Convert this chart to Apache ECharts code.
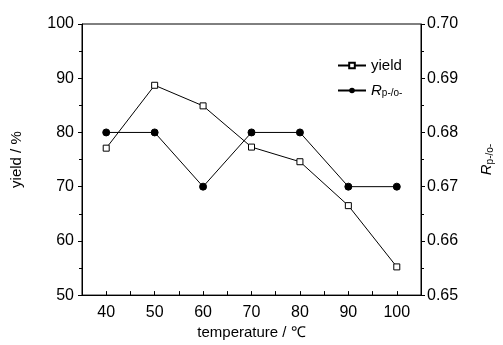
<!DOCTYPE html>
<html>
<head>
<meta charset="utf-8">
<script src="https://cdn.jsdelivr.net/npm/echarts@6/dist/echarts.min.js"></script>
<style>
  html, body { margin: 0; padding: 0; background: #fff; }
  #chart { width: 503px; height: 345px; }
</style>
</head>
<body>
<div id="chart"></div>
<script>
const temperature = [40, 50, 60, 70, 80, 90, 100];
const yieldValues = [77.1, 88.7, 84.9, 77.3, 74.6, 66.5, 55.2];
const rValues = [0.68, 0.68, 0.67, 0.68, 0.68, 0.67, 0.67];

const font = "'Liberation Sans Narrow', 'Liberation Sans', Arial, sans-serif";

const chart = echarts.init(document.getElementById("chart"));

const subRich = {
  r: { fontFamily: font, fontSize: 15, fontStyle: "italic", color: "#000" },
  sub: { fontFamily: font, fontSize: 10, color: "#000", verticalAlign: "bottom", padding: [6, 0, 0, 0] },
};

const option = {
  animation: false,
  textStyle: { fontFamily: font, color: "#000" },
  grid: {
    left: 82,
    right: 81,
    top: 24,
    bottom: 43,
    show: true,
    borderColor: "#000",
    borderWidth: 1,
  },
  legend: {
    orient: "vertical",
    left: 332,
    top: 53,
    itemWidth: 28,
    itemHeight: 7,
    itemGap: 10,
    textStyle: {
      fontFamily: font,
      fontSize: 15,
      color: "#000",
      rich: subRich,
    },
    formatter: (name) => (name === "R" ? "{r|R}{sub|p-/o-}" : name),
    data: ["yield", "R"],
  },
  xAxis: {
    type: "value",
    min: 35,
    max: 105,
    interval: 5,
    name: "temperature / \u2103",
    nameLocation: "middle",
    nameGap: 29,
    nameTextStyle: { fontFamily: font, fontSize: 15, color: "#000" },
    axisLine: { lineStyle: { color: "#000", width: 1 } },
    axisTick: { inside: true, length: 4, lineStyle: { color: "#000" } },
    axisLabel: {
      fontFamily: font,
      fontSize: 16,
      color: "#000",
      margin: 9,
      formatter: (v) => (v % 10 === 0 ? String(v) : ""),
    },
    splitLine: { show: false },
  },
  yAxis: [
    {
      type: "value",
      min: 50,
      max: 100,
      interval: 10,
      name: "yield / %",
      nameLocation: "middle",
      nameRotate: 90,
      nameGap: 58,
      nameTextStyle: { fontFamily: font, fontSize: 15, color: "#000" },
      axisLine: { show: true, lineStyle: { color: "#000" } },
      axisTick: { show: true, length: 4, lineStyle: { color: "#000" } },
      minorTick: { show: true, splitNumber: 2, length: 3, lineStyle: { color: "#000" } },
      axisLabel: { fontFamily: font, fontSize: 16, color: "#000", margin: 8 },
      splitLine: { show: false },
    },
    {
      type: "value",
      min: 0.65,
      max: 0.7,
      interval: 0.01,
      position: "right",
      name: "{r|R}{sub|p-/o-}",
      nameLocation: "middle",
      nameRotate: 90,
      nameGap: 58,
      nameTextStyle: { rich: subRich },
      axisLine: { show: true, lineStyle: { color: "#000" } },
      axisTick: { show: true, length: 4, lineStyle: { color: "#000" } },
      minorTick: { show: true, splitNumber: 2, length: 3, lineStyle: { color: "#000" } },
      axisLabel: {
        fontFamily: font,
        fontSize: 16,
        color: "#000",
        margin: 6,
        formatter: (v) => v.toFixed(2),
      },
      splitLine: { show: false },
    },
  ],
  series: [
    {
      name: "yield",
      type: "line",
      yAxisIndex: 0,
      data: temperature.map((t, i) => [t, yieldValues[i]]),
      symbol: "rect",
      symbolSize: 6,
      itemStyle: { color: "#fff", borderColor: "#000", borderWidth: 1 },
      lineStyle: { color: "#000", width: 1 },
    },
    {
      name: "R",
      type: "line",
      yAxisIndex: 1,
      data: temperature.map((t, i) => [t, rValues[i]]),
      symbol: "circle",
      symbolSize: 7,
      itemStyle: { color: "#000", borderColor: "#000" },
      lineStyle: { color: "#000", width: 1 },
    },
  ],
};

chart.setOption(option);
</script>
</body>
</html>
